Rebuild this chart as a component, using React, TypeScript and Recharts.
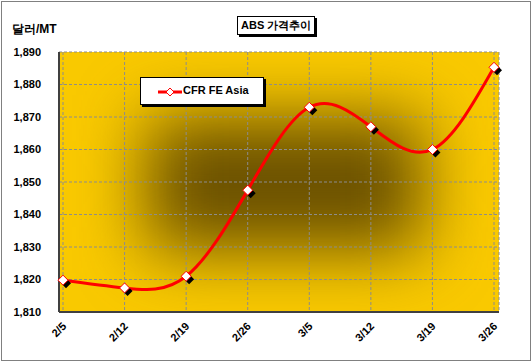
import { CartesianGrid, Line, LineChart, XAxis, YAxis } from "recharts"

const dates = ["2/5", "2/12", "2/19", "2/26", "3/5", "3/12", "3/19", "3/26"]
const cfrFeAsia = [1819.8, 1817.4, 1821, 1847.5, 1873, 1867, 1860, 1885.3]
const yTicks = [1810, 1820, 1830, 1840, 1850, 1860, 1870, 1880, 1890]

const data = dates.map((date, i) => ({ date, value: cfrFeAsia[i] }))

const font = "'Liberation Sans', Arial, sans-serif"

function Diamond({ cx, cy }: { cx?: number; cy?: number }) {
  if (cx == null || cy == null) return null
  const r = 5
  const pts = (dx: number, dy: number) =>
    `${cx + dx},${cy + dy - r} ${cx + dx + r},${cy + dy} ${cx + dx},${cy + dy + r} ${cx + dx - r},${cy + dy}`
  return (
    <g>
      <polygon points={pts(3, 3)} fill="#000" />
      <polygon points={pts(0, 0)} fill="#fff" stroke="#ff0000" strokeWidth={1} />
    </g>
  )
}

function DateTick({ x, y, payload }: any) {
  return (
    <text
      x={x + 4}
      y={y + 7}
      transform={`rotate(-45, ${x + 4}, ${y + 7})`}
      textAnchor="end"
      fontFamily={font}
      fontWeight="bold"
      fontSize={11}
      fill="#000"
    >
      {payload.value}
    </text>
  )
}

export default function App() {
  return (
    <div style={{ position: "absolute", left: 0, top: 0, width: 532, height: 362, background: "#fff", fontFamily: font }}>
      <div style={{ position: "absolute", left: 1, top: 1, width: 528, height: 358, border: "1px solid #808080" }} />
      {/* plot background: gold with a soft dark patch in the middle */}
      <div
        style={{
          position: "absolute",
          left: 59,
          top: 52,
          width: 440,
          height: 260,
          background: "#f9c900",
          overflow: "hidden",
        }}
      >
        <div
          style={{
            position: "absolute",
            left: 88,
            top: 66,
            width: 275,
            height: 132,
            background: "#6a5000",
            filter: "blur(34px)",
          }}
        />
      </div>
      <div style={{ position: "absolute", left: 12, top: 21, fontSize: 12, fontWeight: "bold" }}>달러/MT</div>
      <div
        style={{
          position: "absolute",
          left: 237,
          top: 16,
          padding: "1px 3px",
          border: "1px solid #000",
          background: "#fff",
          boxShadow: "2px 2px 0 #000",
          fontSize: 11,
          fontWeight: "bold",
          lineHeight: "15px",
        }}
      >
        ABS 가격추이
      </div>
      <LineChart
        width={532}
        height={362}
        data={data}
        margin={{ top: 52, right: 33, bottom: 0, left: 0 }}
        style={{ position: "absolute", left: 0, top: 0 }}
      >
        <CartesianGrid stroke="#8c8c8c" strokeDasharray="3 2" fill="none" />
        <XAxis
          dataKey="date"
          height={50}
          padding={{ left: 4, right: 5 }}
          axisLine={{ stroke: "#404040", strokeWidth: 2 }}
          tickLine={false}
          tick={<DateTick />}
          interval={0}
        />
        <YAxis
          width={59}
          domain={[1810, 1890]}
          ticks={yTicks}
          tickFormatter={(v) => Number(v).toLocaleString("en-US")}
          axisLine={{ stroke: "#404040", strokeWidth: 2 }}
          tickLine={false}
          tickMargin={12}
          tick={{ fontFamily: font, fontWeight: "bold", fontSize: 11, fill: "#000" }}
        />
        <Line
          type="natural"
          dataKey="value"
          stroke="#ff0000"
          strokeWidth={3}
          dot={<Diamond />}
          activeDot={false}
          isAnimationActive={false}
        />
      </LineChart>
      <div
        style={{
          position: "absolute",
          left: 140,
          top: 77,
          width: 122,
          height: 26,
          border: "1px solid #000",
          background: "#fff",
          boxShadow: "2px 2px 0 #000",
        }}
      >
        <svg width={26} height={26} style={{ position: "absolute", left: 17, top: 0 }}>
          <line x1={0} y1={14} x2={24} y2={14} stroke="#ff0000" strokeWidth={3} />
          <polygon points="12,10 16,14 12,18 8,14" fill="#fff" stroke="#ff0000" />
        </svg>
        <div style={{ position: "absolute", left: 42, top: 5, fontSize: 11, fontWeight: "bold", lineHeight: "15px" }}>
          CFR FE Asia
        </div>
      </div>
    </div>
  )
}
